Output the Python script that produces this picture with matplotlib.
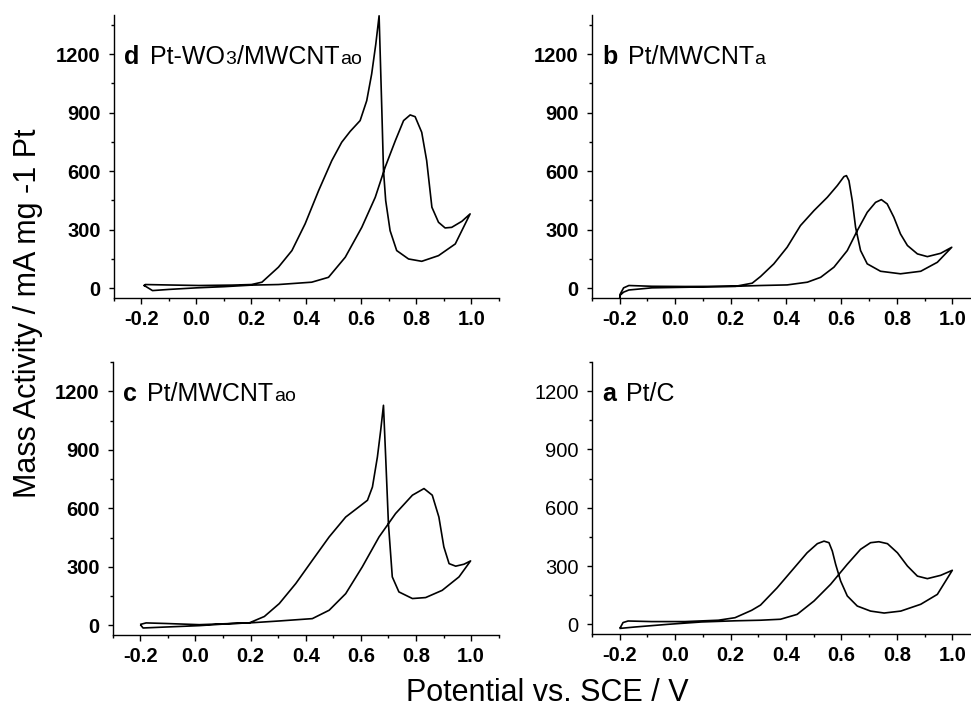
import numpy as np
import matplotlib
matplotlib.use('Agg')
import matplotlib.pyplot as plt
from matplotlib.ticker import MultipleLocator

plt.rcParams['font.family'] = ['Liberation Sans', 'DejaVu Sans']

# panel d  Pt-WO3/MWCNTao  (forward scan, then reverse scan)
d_fx = [-0.19, -0.16, -0.10, 0.0, 0.1, 0.2, 0.298, 0.419, 0.48, 0.541, 0.601, 0.65, 0.686, 0.723, 0.753,
        0.777, 0.795, 0.819, 0.837, 0.856, 0.88, 0.904, 0.928, 0.965, 0.995]
d_fy = [14, -12, -6, 2, 8, 16, 19, 31, 56, 159, 312, 466, 620, 756, 859,
        888, 879, 799, 654, 415, 338, 309, 312, 343, 381]
d_rx = [0.995, 0.941, 0.88, 0.819, 0.771, 0.728, 0.704, 0.688, 0.68, 0.674, 0.664, 0.652, 0.637, 0.619,
        0.595, 0.559, 0.528, 0.492, 0.444, 0.395, 0.347, 0.298, 0.238, 0.2, 0.129, 0.008, -0.113,
        -0.186, -0.19]
d_ry = [381, 227, 167, 138, 150, 193, 295, 449, 603, 910, 1396, 1251, 1098, 961,
        859, 804, 748, 654, 500, 330, 193, 108, 31, 19, 16, 14, 17,
        19, 14]

# panel b  Pt/MWCNTa
b_fx = [-0.2, -0.198, -0.186, -0.167, -0.084, 0.037, 0.218, 0.308, 0.404, 0.477, 0.525, 0.573, 0.621,
        0.657, 0.693, 0.723, 0.744, 0.765, 0.789, 0.813, 0.838, 0.874, 0.91, 0.958, 0.998]
b_fy = [-50, -35, -20, -9, 2, 5, 10, 14, 17, 31, 56, 108, 193,
        295, 389, 440, 454, 432, 364, 278, 219, 176, 162, 179, 210]
b_rx = [0.998, 0.946, 0.886, 0.813, 0.741, 0.693, 0.669, 0.651, 0.639, 0.627, 0.618, 0.609, 0.585,
        0.549, 0.501, 0.452, 0.404, 0.356, 0.308, 0.278, 0.218, 0.037, -0.084, -0.167, -0.186,
        -0.198, -0.2]
b_ry = [210, 133, 87, 74, 87, 125, 193, 312, 449, 551, 577, 572, 526,
        466, 398, 321, 210, 125, 60, 26, 10, 9, 10, 14, 2,
        -29, -50]

# panel c  Pt/MWCNTao
c_fx = [-0.198, -0.19, -0.107, 0.014, 0.134, 0.195, 0.304, 0.424, 0.485, 0.545, 0.605, 0.666, 0.726,
        0.787, 0.829, 0.859, 0.883, 0.901, 0.92, 0.944, 0.974, 0.998]
c_fy = [0, -14, -9, -2, 9, 12, 22, 34, 77, 162, 299, 453, 573,
        667, 701, 667, 555, 402, 316, 303, 313, 330]
c_rx = [0.998, 0.956, 0.895, 0.835, 0.787, 0.738, 0.714, 0.70, 0.69, 0.682, 0.672, 0.66, 0.642, 0.624,
        0.593, 0.545, 0.485, 0.424, 0.364, 0.304, 0.25, 0.195, 0.014, -0.107, -0.179, -0.198]
c_ry = [330, 248, 179, 142, 137, 171, 248, 521, 863, 1128, 1000, 863, 709, 641,
        607, 555, 453, 333, 214, 111, 45, 12, 3, 9, 12, 5]

# panel a  Pt/C
a_fx = [-0.198, -0.146, -0.025, 0.095, 0.216, 0.308, 0.38, 0.44, 0.501, 0.561, 0.621, 0.669, 0.705,
        0.735, 0.766, 0.802, 0.838, 0.874, 0.91, 0.958, 1.0]
a_fy = [-21, -14, 0, 12, 18, 21, 26, 51, 120, 206, 309, 386, 420,
        425, 415, 368, 300, 248, 235, 252, 278]
a_rx = [1.0, 0.946, 0.886, 0.814, 0.754, 0.705, 0.657, 0.621, 0.597, 0.579, 0.567, 0.555, 0.537,
        0.513, 0.476, 0.428, 0.368, 0.308, 0.276, 0.216, 0.156, 0.035, -0.085, -0.17, -0.188, -0.198]
a_ry = [278, 154, 103, 68, 58, 68, 94, 146, 223, 309, 377, 420, 428,
        415, 368, 288, 188, 99, 72, 34, 21, 14, 14, 17, 9, -17]

xticks = [-0.2, 0.0, 0.2, 0.4, 0.6, 0.8, 1.0]
yticks = [0, 300, 600, 900, 1200]

fig = plt.figure(figsize=(9.71, 7.08), dpi=100)


def panel(rect, ytop, fx, fy, rx, ry, letter, parts, ybold=True):
    ax = fig.add_axes(rect)
    ax.plot(fx + rx, fy + ry, color='black', lw=1.2, solid_joinstyle='round')
    ax.set_xlim(-0.3, 1.1)
    ax.set_ylim(-50, ytop)
    ax.spines['top'].set_visible(False)
    ax.spines['right'].set_visible(False)
    for s in ['left', 'bottom']:
        ax.spines[s].set_linewidth(1.0)
    ax.set_xticks(xticks)
    ax.set_xticklabels(['%.1f' % v for v in xticks], fontsize=14.5, fontweight='bold')
    ax.set_yticks(yticks)
    ax.set_yticklabels([str(v) for v in yticks], fontsize=14.5,
                       fontweight='bold' if ybold else 'normal')
    ax.xaxis.set_minor_locator(MultipleLocator(0.1))
    ax.yaxis.set_minor_locator(MultipleLocator(150))
    ax.tick_params(axis='x', which='major', length=4.5, width=1.0, pad=4)
    ax.tick_params(axis='x', which='minor', length=2.5, width=1.0)
    ax.tick_params(axis='y', which='major', length=3.5, width=1.0, pad=6)
    ax.tick_params(axis='y', which='minor', length=2, width=1.0)
    ax.patch.set_alpha(0)

    # panel label: bold letter, then the name with smaller "subscripts" on the baseline
    y0 = 1150
    prev = ax.text(-0.262, y0, letter, fontsize=18, fontweight='bold', va='baseline')
    first = True
    for s, fs in parts:
        prev = ax.annotate(s, xy=(1, y0), xycoords=(prev, 'data'),
                           xytext=(7 if first else 0.5, 0), textcoords='offset points',
                           fontsize=fs, va='baseline', ha='left')
        first = False
    return ax


panel([0.1174, 0.5791, 0.3965, 0.3997], 1400, d_fx, d_fy, d_rx, d_ry, 'd',
      [('Pt-WO', 18), ('3', 14), ('/MWCNT', 18), ('ao', 14)])
panel([0.6097, 0.5791, 0.3996, 0.3997], 1400, b_fx, b_fy, b_rx, b_ry, 'b',
      [('Pt/MWCNT', 18), ('a', 14)])
panel([0.1161, 0.1031, 0.3975, 0.3856], 1350, c_fx, c_fy, c_rx, c_ry, 'c',
      [('Pt/MWCNT', 18), ('ao', 14)])
panel([0.6097, 0.1045, 0.3996, 0.3842], 1350, a_fx, a_fy, a_rx, a_ry, 'a',
      [('Pt/C', 18)], ybold=False)

fig.text(0.0288, 0.557, 'Mass Activity / mA mg -1 Pt', rotation=90, fontsize=22,
         ha='center', va='center')
fig.text(0.564, 0.021, 'Potential vs. SCE / V', fontsize=22, ha='center', va='center')

fig.savefig('out.png', dpi=100)
